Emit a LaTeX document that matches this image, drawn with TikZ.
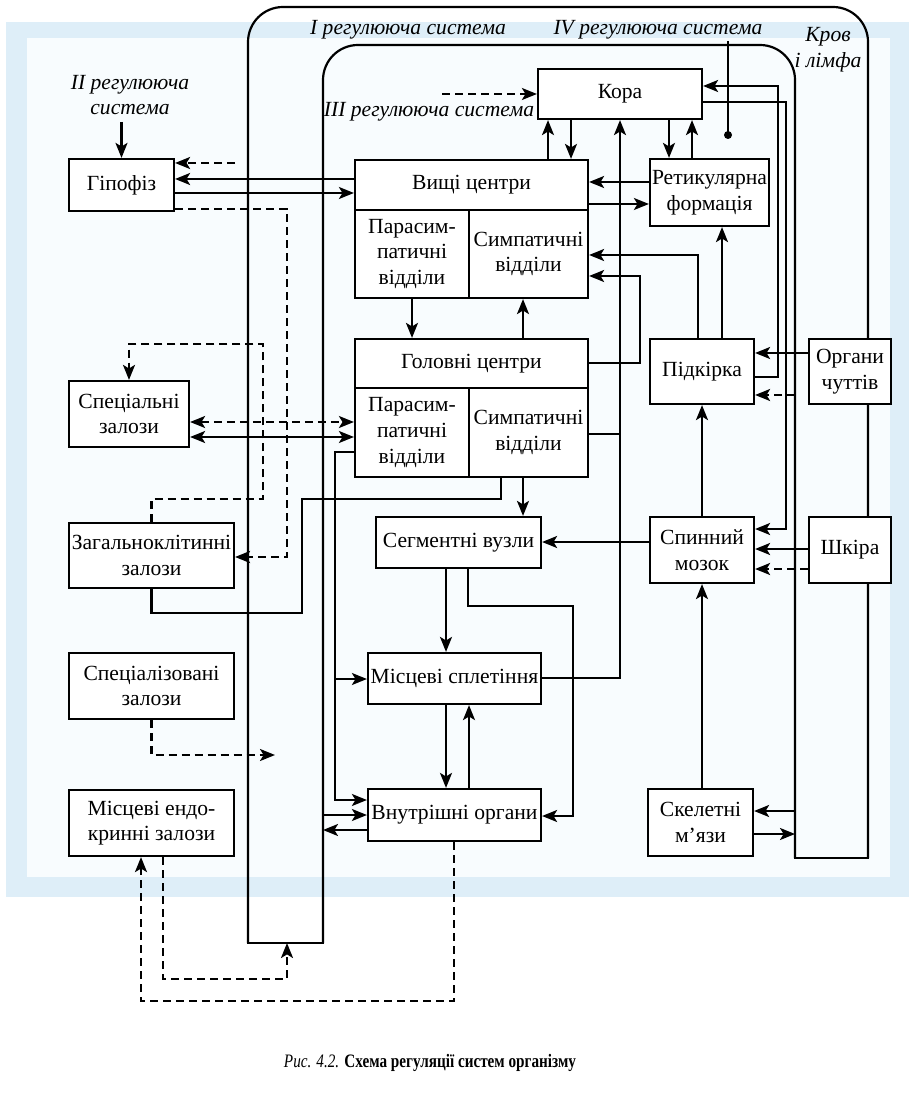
\documentclass[tikz,border=0pt]{standalone}
\usepackage{graphicx}
\usepackage{fontspec}
\setmainfont{Liberation Serif}
\usetikzlibrary{arrows.meta}
\definecolor{band}{RGB}{222,238,248}
\definecolor{innerbg}{RGB}{248,252,254}
\newcommand\mybox[6]{%
  \pgfmathsetmacro\bxw{(#4-#2)*0.5}%
  \pgfmathsetmacro\bxh{(#5-#3)*0.5}%
  \node[box, minimum width=\bxw pt, minimum height=\bxh pt] (#1) at ({(#2+#4)/2},{(#3+#5)/2}) {#6};}
\begin{document}
\begin{tikzpicture}[x=0.5pt,y=-0.5pt,
  box/.style={draw,line width=1.1pt,fill=white,inner sep=0pt,align=center,font=\fontsize{10.8}{12.8}\selectfont},
  con/.style={line width=1.1pt},
  arr/.style={con,-{Stealth[length=7.5pt,width=6pt,inset=1.8pt]}},
  darr/.style={con,{Stealth[length=7.5pt,width=6pt,inset=1.8pt]}-{Stealth[length=7.5pt,width=6pt,inset=1.8pt]}},
  dsh/.style={dash pattern=on 4pt off 2.5pt},
  lbl/.style={font=\fontsize{10.8}{12.8}\selectfont\itshape,inner sep=0pt,align=center}]
\useasboundingbox (0,0) rectangle (909,1111);
% background frame
\fill[band] (6,22) rectangle (909,897);
\fill[innerbg] (27,38) rectangle (890,877);
% channel of blood and lymph
\draw[con,rounded corners=17.5pt] (248,943) -- (248,7) -- (868,7) -- (868,858);
\draw[con,rounded corners=17.5pt] (323,943) -- (323,45) -- (795,45) -- (795,858);
\draw[con] (248,920) -- (248,943) -- (323,943) -- (323,920);
\draw[con] (795,840) -- (795,858) -- (868,858) -- (868,840);
% boxes
\mybox{kora}{538}{69}{702}{119}{Кора}
\mybox{vc}{355}{160}{588}{210}{Вищі центри}
\mybox{vcp}{355}{210}{469}{298}{Парасим-\\патичні\\відділи}
\mybox{vcs}{469}{210}{588}{298}{Симпатичні\\відділи}
\mybox{ret}{650}{159}{769}{226}{Ретикулярна\\формація}
\mybox{gc}{355}{339}{588}{388}{Головні центри}
\mybox{gcp}{355}{388}{469}{477}{Парасим-\\патичні\\відділи}
\mybox{gcs}{469}{388}{588}{477}{Симпатичні\\відділи}
\mybox{gip}{69}{159}{174}{211}{Гіпофіз}
\mybox{spz}{69}{381}{189}{447}{Спеціальні\\залози}
\mybox{zag}{69}{523}{234}{588}{Загальноклітинні\\залози}
\mybox{seg}{376}{517}{541}{568}{Сегментні вузли}
\mybox{mis}{368}{653}{541}{704}{Місцеві сплетіння}
\mybox{vnu}{368}{789}{541}{841}{Внутрішні органи}
\mybox{spc}{69}{653}{234}{719}{Спеціалізовані\\залози}
\mybox{endo}{69}{790}{234}{856}{Місцеві ендо-\\кринні залози}
\mybox{pid}{650}{339}{754}{404}{Підкірка}
\mybox{org}{809}{339}{891}{404}{Органи\\чуттів}
\mybox{spm}{650}{517}{754}{583}{Спинний\\мозок}
\mybox{shk}{809}{517}{891}{583}{Шкіра}
\mybox{skel}{648}{789}{753}{856}{Скелетні\\м’язи}
% labels
\node[lbl] (l1) at (408,30) {I регулююча система};
\node[lbl] (l4) at (658,30) {IV регулююча система};
\node[lbl] (lk) at (828,50) {Кров\\і лімфа};
\node[lbl] (l2) at (130,95) {II регулююча\\система};
\node[lbl] (l3) at (429,112) {III регулююча система};
\coordinate (dot) at (728,135);
\draw[line width=0.6pt] (728,41) -- (dot);
\fill (dot) circle (2pt);
% connectors: pituitary
\draw[arr] (gip.north |- 0,122) -- (gip.north);
\coordinate (d1) at (235,163);
\draw[arr,dsh] (d1) -- (gip.east |- d1);
\draw[arr] (vc.west |- 0,179) -- (gip.east |- 0,179);
\draw[arr] (gip.east |- 0,193) -- (vc.west |- 0,193);
\draw[arr,dsh] (gip.east |- 0,209) -- (287,209) -- (287,557) -- (zag.east |- 0,557);
\draw[arr,dsh] (zag.north) -- (zag.north |- 0,499) -- (263,499) -- (263,344) -- (spz.north |- 0,344) -- (spz.north);
\draw[darr,dsh] (spz.east |- 0,422) -- (gcp.west |- 0,422);
\draw[darr] (spz.east |- 0,437) -- (gcp.west |- 0,437);
\draw[arr] (gcp.west |- 0,452) -- (335,452) -- (335,800) -- (vnu.west |- 0,800);
\draw[arr] (335,679) -- (mis.west |- 0,679);
\draw[arr] (323,815) -- (vnu.west |- 0,815);
\draw[arr] (vnu.west |- 0,830) -- (323,830);
\draw[con] (gcs.south -| 501,0) -- (501,499) -- (302,499) -- (302,613) -- (zag.south |- 0,613) -- (zag.south);
% centres
\draw[arr] (gcs.south -| 523,0) -- (seg.north -| 523,0);
\draw[arr] (vcp.south) -- (vcp.south |- gc.north);
\draw[arr] (gc.north -| 523,0) -- (vcs.south -| 523,0);
\draw[arr] (vc.north -| 548,0) -- (kora.south -| 548,0);
\draw[arr] (kora.south -| 571,0) -- (vc.north -| 571,0);
\draw[arr] (kora.south -| 669,0) -- (ret.north -| 669,0);
\draw[arr] (ret.north -| 692,0) -- (kora.south -| 692,0);
\draw[arr] (mis.east |- 0,678) -- (620,678) -- (kora.south -| 620,0);
\draw[con] (gcs.east |- 0,434) -- (620,434);
\draw[arr] (ret.west |- 0,182) -- (vc.east |- 0,182);
\draw[arr] (vc.east |- 0,204) -- (ret.west |- 0,204);
\draw[arr] (pid.north -| 698,0) -- (698,255) -- (vcs.east |- 0,255);
\draw[arr] (gc.east |- 0,363) -- (640,363) -- (640,276) -- (vcs.east |- 0,276);
\draw[arr] (pid.north -| 722,0) -- (ret.south -| 722,0);
\draw[arr] (pid.east |- 0,377) -- (778,377) -- (778,86) -- (kora.east |- 0,86);
\draw[arr] (kora.east |- 0,102) -- (786,102) -- (786,529) -- (spm.east |- 0,529);
\draw[arr,dsh] (795,395) -- (pid.east |- 0,395);
\draw[arr] (org.west |- 0,353) -- (pid.east |- 0,353);
\draw[arr] (shk.west |- 0,549) -- (spm.east |- 0,549);
\draw[arr,dsh] (shk.west |- 0,569) -- (spm.east |- 0,569);
\draw[arr] (spm.north) -- (pid.south);
\draw[arr] (skel.north -| spm.south) -- (spm.south);
\draw[arr] (spm.west |- 0,542) -- (seg.east |- 0,542);
\draw[arr] (795,811) -- (skel.east |- 0,811);
\draw[arr] (skel.east |- 0,834) -- (795,834);
\coordinate (d2) at (287,943);
\draw[arr] (seg.south -| 446,0) -- (mis.north -| 446,0);
\draw[arr] (seg.south -| 468,0) -- (468,606) -- (573,606) -- (573,816) -- (vnu.east |- 0,816);
\draw[arr] (mis.south -| 446,0) -- (vnu.north -| 446,0);
\draw[arr] (vnu.north -| 469,0) -- (mis.south -| 469,0);
\draw[arr,dsh] (vnu.south -| 454,0) -- (454,1001) -- (141,1001) -- (endo.south -| 141,0);
\draw[arr,dsh] (endo.south -| 163,0) -- (163,979) -- (287,979) -- (d2);
\coordinate (d3) at (275,755);
\draw[arr,dsh] (spc.south) -- (spc.south |- d3) -- (d3);
\coordinate (d4) at (442,94);
\draw[arr,dsh] (d4) -- (kora.west |- d4);
% caption
\node[inner sep=0pt] (cap) at (430,1063) {\scalebox{0.8}[1]{\fontsize{9.5}{11}\selectfont\textit{Рис. 4.2.} \textbf{Схема регуляції систем організму}}};
\end{tikzpicture}
\end{document}
